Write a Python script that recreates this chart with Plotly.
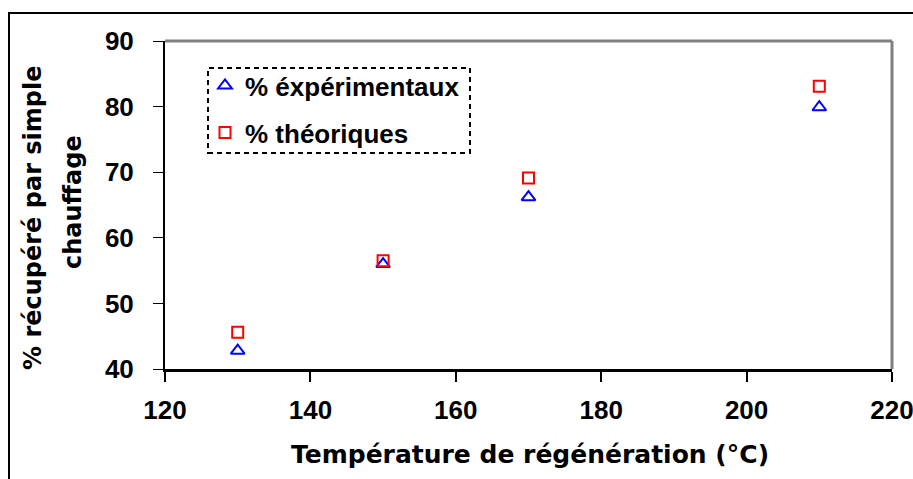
import plotly.graph_objects as go

temps = [130, 150, 170, 210]
exp_vals = [42.8, 56.0, 66.2, 79.9]
theo_vals = [45.6, 56.5, 69.1, 83.1]
x_ticks = [120, 140, 160, 180, 200, 220]
y_ticks = [40, 50, 60, 70, 80, 90]

W, H = 913, 479
L, R, T = 165, 913 - 892, 41
B = H - 369
pw, ph = W - L - R, H - T - B


def px_x(p):  # screen px -> paper x
    return (p - L) / pw


def px_y(p):  # screen px -> paper y
    return (H - B - p) / ph


FONT = "Liberation Sans, Arial, sans-serif"
TFONT = "DejaVu Sans, Liberation Sans, sans-serif"

fig = go.Figure()
fig.add_trace(go.Scatter(
    x=temps, y=exp_vals, mode="markers", name="% éxpérimentaux",
    marker=dict(symbol="triangle-up-open", size=12, color="#0000FF",
                line=dict(width=2, color="#0000FF")),
    legend="legend",
))
fig.add_trace(go.Scatter(
    x=temps, y=theo_vals, mode="markers", name="% théoriques",
    marker=dict(symbol="square-open", size=11, color="#FF0000",
                line=dict(width=2, color="#FF0000")),
    legend="legend2",
))

tickfont = dict(family=FONT, size=26, color="black", weight="bold")

fig.update_layout(
    width=W, height=H,
    margin=dict(l=L, r=R, t=T, b=B, autoexpand=False),
    paper_bgcolor="white", plot_bgcolor="white",
    showlegend=True,
    xaxis=dict(range=[120, 220], tickvals=x_ticks, showgrid=False, zeroline=False,
               showline=True, linecolor="black", linewidth=3,
               ticks="outside", ticklen=10, tickwidth=2, tickcolor="black",
               tickfont=tickfont, ticklabelstandoff=6, ticklabeloverflow="allow"),
    yaxis=dict(range=[40, 90], tickvals=y_ticks, showgrid=False, zeroline=False,
               showline=True, linecolor="black", linewidth=2,
               ticks="outside", ticklen=10, tickwidth=1, tickcolor="black",
               tickfont=tickfont, ticklabelstandoff=14, ticklabeloverflow="allow"),
    legend=dict(x=px_x(205), y=px_y(62), xanchor="left", yanchor="top",
                bgcolor="rgba(0,0,0,0)", borderwidth=0,
                font=dict(family=FONT, size=26, color="black", weight="bold")),
    legend2=dict(x=px_x(205), y=px_y(109), xanchor="left", yanchor="top",
                 bgcolor="rgba(0,0,0,0)", borderwidth=0,
                 font=dict(family=FONT, size=26, color="black", weight="bold")),
    annotations=[
        dict(text="Température de régénération (°C)", xref="paper", yref="paper",
             x=px_x(530), y=px_y(454), xanchor="center", yanchor="middle",
             showarrow=False,
             font=dict(family=TFONT, size=25, color="black", weight="bold")),
        dict(text="% récupéré par simple", xref="paper", yref="paper",
             x=px_x(33), y=px_y(218), xanchor="center", yanchor="middle",
             textangle=-90, showarrow=False,
             font=dict(family=TFONT, size=24, color="black", weight="bold")),
        dict(text="chauffage", xref="paper", yref="paper",
             x=px_x(73), y=px_y(202), xanchor="center", yanchor="middle",
             textangle=-90, showarrow=False,
             font=dict(family=TFONT, size=24, color="black", weight="bold")),
    ],
    shapes=[
        # gray top and right frame
        dict(type="line", xref="paper", yref="paper", x0=0, x1=1, y0=1, y1=1,
             line=dict(color="#808080", width=3)),
        dict(type="line", xref="paper", yref="paper", x0=1, x1=1, y0=0, y1=1,
             line=dict(color="#808080", width=3)),
        # legend dashed box
        dict(type="rect", xref="paper", yref="paper",
             x0=px_x(208), x1=px_x(470), y0=px_y(153), y1=px_y(68),
             line=dict(color="black", width=2, dash="5px,4px")),
        # outer chart border
        dict(type="rect", xref="paper", yref="paper",
             x0=px_x(9), x1=px_x(960), y0=px_y(520), y1=px_y(13),
             line=dict(color="black", width=2)),
    ],
)

fig.write_html(
    "out.html",
    config={"displayModeBar": False},
    post_script="document.body.style.margin='0px';document.body.style.overflow='hidden';",
)
